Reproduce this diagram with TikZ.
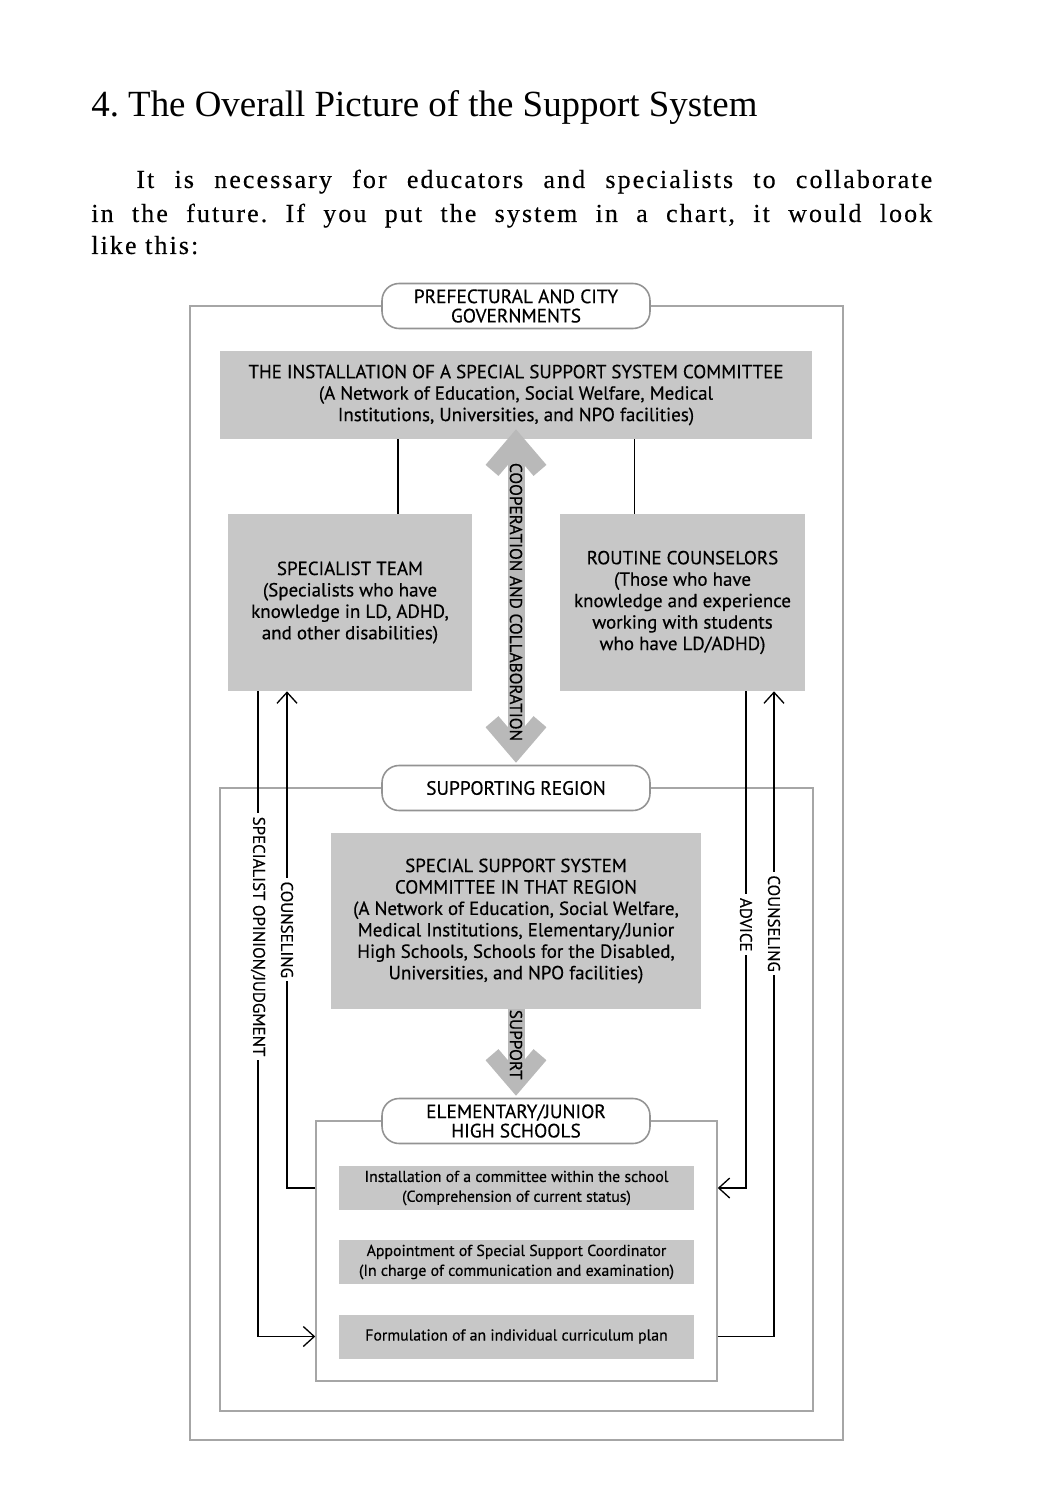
\documentclass[tikz,border=0pt]{standalone}
\usepackage{fontspec}
\setmainfont{Liberation Serif}
\newfontfamily\chartfont[FakeBold=0.4]{PT Sans}
\newfontfamily\bodyfont[FakeBold=0.3, LetterSpace=8]{Liberation Serif}
\usetikzlibrary{arrows.meta,positioning}
\frenchspacing

\tikzset{
  chartbox/.style={rectangle, fill=gray!44, align=center, inner sep=0pt,
    font=\chartfont\fontsize{10.8}{12.2}\selectfont},
  schoolbox/.style={rectangle, fill=gray!44, align=center, inner sep=0pt,
    minimum width=7.1cm, minimum height=0.88cm,
    font=\chartfont\fontsize{9}{11.3}\selectfont},
  pill/.style={rectangle, rounded corners=0.34cm, draw=gray!85, line width=0.9pt,
    fill=white, align=center, minimum width=5.36cm, minimum height=0.9cm,
    inner sep=0pt, font=\chartfont\fontsize{11}{11}\selectfont},
  areaframe/.style={rectangle, draw=gray!70, line width=0.9pt, inner sep=0pt},
  link/.style={line width=0.75pt, -{Straight Barb[length=0.22cm,width=0.4cm,sharp]}},
  plainline/.style={line width=0.75pt},
  bigarrow/.style={draw=gray!55, line width=0.34cm},
  sidelabel/.style={rotate=-90, fill=white, inner sep=2pt,
    font=\chartfont\fontsize{9.6}{11}\selectfont},
  arrowlabel/.style={rotate=-90, inner sep=0pt,
    font=\chartfont\fontsize{9.8}{11}\selectfont},
}

\begin{document}
\begin{tikzpicture}[x=0.02cm, y=-0.02cm]
\useasboundingbox (0,0) rectangle (1046,1500);

% heading and text
\node[anchor=base west, inner sep=0pt, font=\fontsize{21}{25}\selectfont] (heading) at (91,117)
  {4. The Overall Picture of the Support System};
\begin{scope}[every node/.style={anchor=base west, inner sep=0pt,
    font=\bodyfont\fontsize{14.8}{17}\selectfont}]
  \node (lineone) at (136,188) {\makebox[15.92cm][s]{It is necessary for educators and specialists to collaborate}};
  \node (linetwo) at (91,222) {\makebox[16.82cm][s]{in the future. If you put the system in a chart, it would look}};
  \node (linethree) at (91,254) {like this:};
\end{scope}

% frames
\node[areaframe, minimum width=13.06cm, minimum height=22.68cm] (prefframe) at (516.5,873) {};
\node[areaframe, minimum width=11.86cm, minimum height=12.46cm] (regionframe) at (516.5,1099.5) {};
\node[areaframe, minimum width=8.02cm, minimum height=5.2cm] (schoolframe) at (516.5,1251) {};

% labels of the frames
\node[pill] (govpill) at (516,306) {PREFECTURAL AND CITY\\GOVERNMENTS};
\node[pill] (regionpill) at (516,788) {SUPPORTING REGION};
\node[pill] (schoolpill) at (516,1121) {ELEMENTARY/JUNIOR\\HIGH SCHOOLS};

% gray boxes
\node[chartbox, minimum width=11.84cm, minimum height=1.76cm] (topcommittee) at (516,395)
  {THE INSTALLATION OF A SPECIAL SUPPORT SYSTEM COMMITTEE\\
   (A Network of Education, Social Welfare, Medical\\
   Institutions, Universities, and NPO facilities)};
\node[chartbox, minimum width=4.88cm, minimum height=3.54cm] (specteam) at (350,602.5)
  {SPECIALIST TEAM\\(Specialists who have\\knowledge in LD, ADHD,\\and other disabilities)};
\node[chartbox, minimum width=4.9cm, minimum height=3.54cm] (counselors) at (682.5,602.5)
  {ROUTINE COUNSELORS\\(Those who have\\knowledge and experience\\working with students\\who have LD/ADHD)};
\node[chartbox, minimum width=7.4cm, minimum height=3.52cm] (regcommittee) at (516,921)
  {SPECIAL SUPPORT SYSTEM\\COMMITTEE IN THAT REGION\\(A Network of Education, Social Welfare,\\
   Medical Institutions, Elementary/Junior\\High Schools, Schools for the Disabled,\\
   Universities, and NPO facilities)};
\node[schoolbox] (install) at (516.5,1188)
  {Installation of a committee within the school\\(Comprehension of current status)};
\node[schoolbox] (coordinator) at (516.5,1262)
  {Appointment of Special Support Coordinator\\(In charge of communication and examination)};
\node[schoolbox] (plan) at (516.5,1336.5)
  {Formulation of an individual curriculum plan};

% wide gray arrows
\draw[bigarrow, {Straight Barb[length=0.56cm,width=0.96cm,sharp]}-{Straight Barb[length=0.56cm,width=0.96cm,sharp]},
  shorten <=-0.2cm, shorten >=0.04cm] (topcommittee.south) -- node[arrowlabel] {COOPERATION AND COLLABORATION} (regionpill.north);
\draw[bigarrow, -{Straight Barb[length=0.56cm,width=0.96cm,sharp]}, shorten >=0.04cm]
  (regcommittee.south) -- node[arrowlabel, pos=0.4] {SUPPORT} (schoolpill.north);

% connectors
\draw[plainline] ([xshift=0.96cm]specteam.north) -- ([xshift=0.96cm]specteam.north |- topcommittee.south);
\draw[plainline] ([xshift=-0.96cm]counselors.north) -- ([xshift=-0.96cm]counselors.north |- topcommittee.south);
\draw[link] ([xshift=-1.84cm]specteam.south) |- node[sidelabel, pos=0.19] {SPECIALIST OPINION/JUDGMENT} (plan.west -| schoolframe.west);
\draw[link] (install.west -| schoolframe.west) -| node[sidelabel, pos=0.76] {COUNSELING} ([xshift=-1.26cm]specteam.south);
\draw[link] ([xshift=1.27cm]counselors.south) |- node[sidelabel, pos=0.235] {ADVICE} (install.east -| schoolframe.east);
\draw[link] (plan.east -| schoolframe.east) -| node[sidelabel, pos=0.82] {COUNSELING} ([xshift=1.83cm]counselors.south);
\end{tikzpicture}
\end{document}
